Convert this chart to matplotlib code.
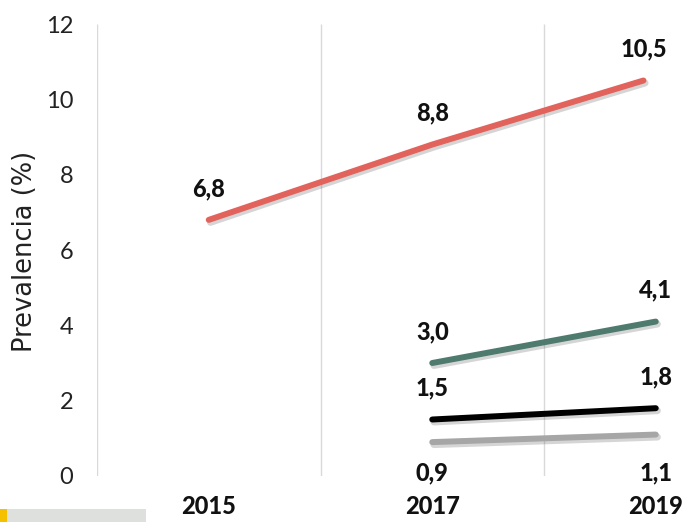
import matplotlib
matplotlib.use("Agg")
import matplotlib.pyplot as plt
import matplotlib.patheffects as pe
from matplotlib.patches import Rectangle

# ---- data ----
years = ["2015", "2017", "2019"]
serie_roja = [6.8, 8.8, 10.5]
serie_verde = [None, 3.0, 4.1]
serie_negra = [None, 1.5, 1.8]
serie_gris = [None, 0.9, 1.1]
y_ticks = [0, 2, 4, 6, 8, 10, 12]

plt.rcParams['font.family'] = ['Lato', 'DejaVu Sans']

W, H = 687, 522
fig = plt.figure(figsize=(W / 100, H / 100), dpi=100)
ax_left, ax_right, ax_top, ax_bot = 97, 687, 24, 476
ax = fig.add_axes([ax_left / W, (H - ax_bot) / H, (ax_right - ax_left) / W, (ax_bot - ax_top) / H])

step = 223.5
ax.set_xlim(-0.5, -0.5 + (ax_right - ax_left) / step)
ax.set_ylim(0, 12)

for s in ax.spines.values():
    s.set_visible(False)

# category boundary gridlines
for xb in [-0.5, 0.5, 1.5]:
    ax.plot([xb, xb], [0, 12], color="#d9d9d9", lw=1.0, zorder=1, solid_capstyle="butt")

shadow = [pe.SimpleLineShadow(offset=(1.2, -1.8), shadow_color="#444444", alpha=0.22, linewidth=5.0),
          pe.Normal()]

def pts(vals, nudge_last=0.0):
    xs, ys = [], []
    for i, v in enumerate(vals):
        if v is None:
            continue
        x = i
        if i == len(vals) - 1:
            x = i + nudge_last
        xs.append(x)
        ys.append(v)
    return xs, ys

series = [
    (serie_roja, "#e2625c", "above", -0.055),
    (serie_verde, "#4f7a6e", "above", 0.0),
    (serie_negra, "#000000", "above", 0.0),
    (serie_gris, "#a6a6a6", "below", 0.0),
]

def fmt(v):
    return f"{v:.1f}".replace(".", ",")

for vals, col, pos, nudge in series:
    xs, ys = pts(vals, nudge)
    ax.plot(xs, ys, color=col, lw=4.3, solid_capstyle="round", zorder=3, path_effects=shadow)
    for x, y in zip(xs, ys):
        if pos == "above":
            ax.annotate(fmt(y), (x, y), xytext=(0, 22.5), textcoords="offset points",
                        ha="center", va="center", fontsize=17, fontweight=900, color="#111111")
        else:
            ax.annotate(fmt(y), (x, 0), xytext=(0, 2), textcoords="offset points",
                        ha="center", va="center", fontsize=17, fontweight=900, color="#111111")

ax.set_xticks(range(len(years)))
ax.set_xticklabels(years, fontsize=17, fontweight=900, color="#111111")
ax.set_yticks(y_ticks)
ax.set_yticklabels([str(t) for t in y_ticks], fontsize=17, color="#222222")
ax.tick_params(axis="both", length=0)
ax.tick_params(axis="y", pad=17)
ax.tick_params(axis="x", pad=14)

fig.text(25 / W, 1 - 251 / H, "Prevalencia (%)", rotation=90, ha="center", va="center",
         fontsize=18.5, color="#222222", family=["DejaVu Sans"])

# bottom-left legend fragments
fig.patches.append(Rectangle((6 / W, 0), 140 / W, 13 / H, transform=fig.transFigure,
                             facecolor="#dde0dd", edgecolor="none"))
fig.patches.append(Rectangle((0, 0), 7 / W, 13 / H, transform=fig.transFigure,
                             facecolor="#f5c000", edgecolor="none"))

fig.savefig("out.png", dpi=100)
